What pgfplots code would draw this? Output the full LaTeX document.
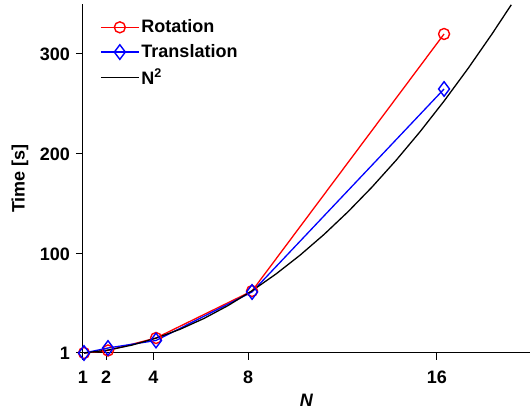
\documentclass[border=0pt]{standalone}
\usepackage{fontspec}
\setmainfont{Liberation Sans}
\usepackage{pgfplots}
\pgfplotsset{compat=1.18}
\pgfplotstableread{
x y
1 1
2 3.5
4 16
8 63
16 320
}\rotdata
\pgfplotstableread{
x y
1 1
2 6
4 13.5
8 62
16 265
}\transdata
\pgfplotstableread{
x y
1 0.99
2 3.95
3 8.89
4 15.81
5 24.7
6 35.57
7 48.41
8 63.23
9 80.03
10 98.8
11 119.55
12 142.27
13 166.97
14 193.65
15 222.3
16 252.93
17 285.53
18 320.11
18.8 349.2
}\sqdata
\begin{document}
\fontsize{18}{21}\selectfont\bfseries
\begin{tikzpicture}
\begin{axis}[
  scale only axis, width=447pt, height=349pt,
  xmin=0.958, xmax=19.58, ymin=1, ymax=350,
  clip=false,
  axis lines*=left,
  axis line style={line width=1pt, black},
  tick align=outside, major tick length=7pt,
  tick style={line width=1pt, black},
  xtick={0.958,1.917,3.888,7.833,15.696}, xticklabels={1,2,4,8,16},
  ytick={1,100,200,300}, yticklabels={1,100,200,300},
  tick label style={font=\fontsize{18}{21}\selectfont\bfseries},
  xticklabel style={yshift=-5pt},
  label style={font=\fontsize{18}{21}\selectfont\bfseries},
  xlabel={\itshape N},
  ylabel={Time [s]},
  every axis x label/.style={at={(axis description cs:0.5,-0.135)}, anchor=center},
  every axis y label/.style={at={(axis description cs:-0.141,0.5)}, rotate=90, anchor=center},
  legend style={draw=none, fill=none, inner sep=0pt, row sep=5pt, at={(axis description cs:0.038,0.962)}, anchor=north west, font=\fontsize{18}{21}\selectfont\bfseries},
  legend cell align=left,
  legend image code/.code={\draw[mark repeat=2,mark phase=2,#1] plot coordinates {(0pt,0pt) (19pt,0pt) (38pt,0pt)};},
]
\addplot[red, line width=1.3pt, mark=o, mark size=5.5pt, mark options={fill=white, line width=1.4pt}] table[x=x,y=y] {\rotdata};
\addlegendentry{Rotation}
\addplot[blue, line width=1.3pt, mark=diamond, mark size=7.3pt, mark options={fill=white, line width=1.4pt}] table[x=x,y=y] {\transdata};
\addlegendentry{Translation}
\addplot[black, line width=1.3pt, no marks] table[x=x,y=y] {\sqdata};
\addlegendentry{N$^\mathbf{2}$}
\end{axis}
\pgfresetboundingbox
\path (current axis.south west) ++(-83pt,-58pt) rectangle ++(531pt,411pt);
\end{tikzpicture}
\end{document}
